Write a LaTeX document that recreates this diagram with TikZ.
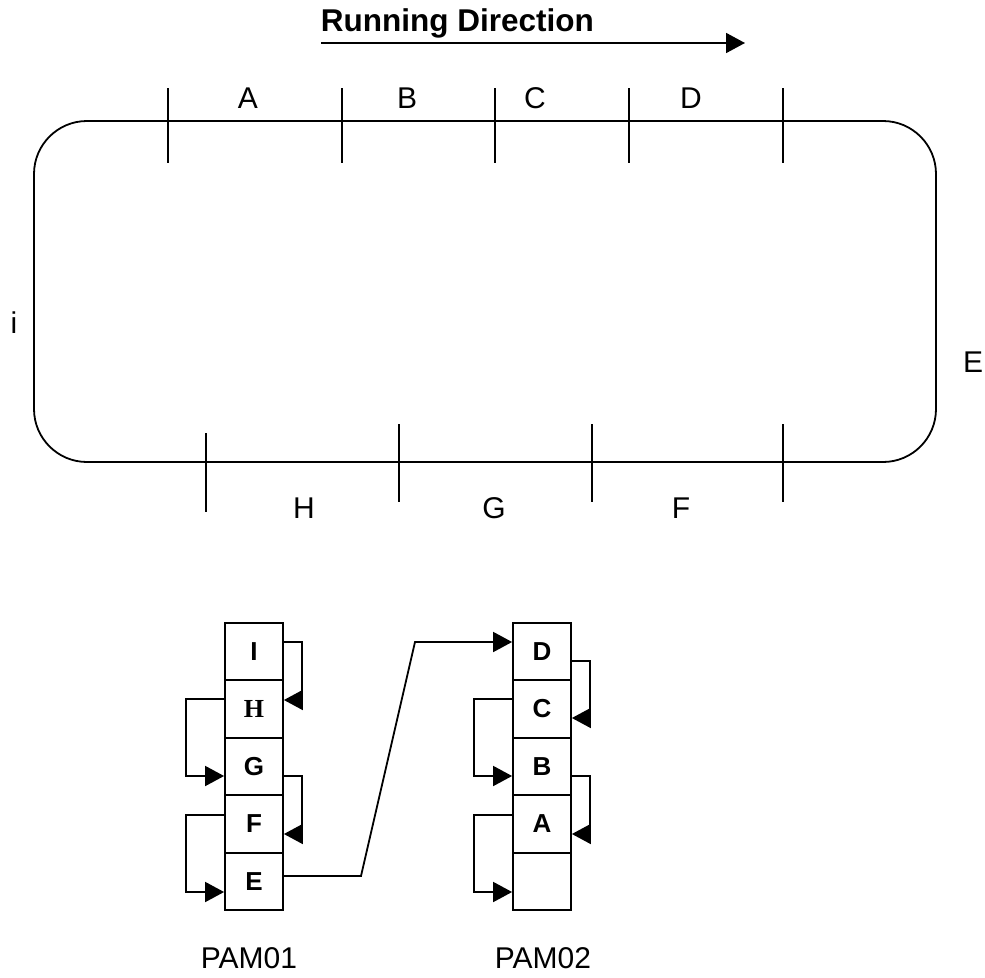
\documentclass[tikz,border=0pt]{standalone}
\usepackage{fontspec}
\setmainfont{Liberation Sans}
\newfontfamily\serifbold{Liberation Serif}
\usetikzlibrary{arrows.meta}
\begin{document}
\begin{tikzpicture}[x=1pt,y=-1pt,line width=1.8pt,
  lbl/.style={anchor=base,font=\fontsize{30}{36}\selectfont,inner sep=0pt},
  cell/.style={draw,line width=1.8pt,minimum width=58pt,minimum height=57.5pt,inner sep=0pt,font=\fontsize{26}{30}\selectfont\bfseries},
  arr/.style={-{Triangle[length=19pt,width=20pt]}},
  tick/.style={line width=1.8pt}]
\useasboundingbox (0,0) rectangle (985,977);
% track
\draw[rounded corners=53pt] (34,121) rectangle (936,462);
% top ticks
\foreach \x in {168,342,495,629,783} \draw[tick] (\x,88) -- (\x,163);
% bottom ticks
\draw[tick] (206,433) -- (206,512);
\foreach \x in {399,592,783} \draw[tick] (\x,424) -- (\x,502);
% labels
\node[lbl] (lA) at (248,108) {A};
\node[lbl] (lB) at (407,108) {B};
\node[lbl] (lC) at (535,108) {C};
\node[lbl] (lD) at (691,108) {D};
\node[lbl] (lH) at (304,518) {H};
\node[lbl] (lG) at (494,518) {G};
\node[lbl] (lF) at (681,518) {F};
\node[lbl] (li) at (14,333) {i};
\node[lbl] (lE) at (973,372) {E};
% running direction
\node[lbl,anchor=base west,font=\fontsize{31.5}{36}\selectfont\bfseries] (rd) at (320,31) {Running Direction};
\coordinate (rs) at (321,43);
\coordinate (re) at (745,43);
\draw[arr] (rs) -- (re);
% PAM01
\node[cell] (I) at (254,651.5) {I};
\node[cell] (H) at (254,709) {\serifbold H};
\node[cell] (G) at (254,766.5) {G};
\node[cell] (F) at (254,824) {F};
\node[cell] (E) at (254,881.5) {E};
% PAM02
\node[cell] (D) at (542,651.5) {D};
\node[cell] (C) at (542,709) {C};
\node[cell] (B) at (542,766.5) {B};
\node[cell] (A) at (542,824) {A};
\node[cell] (Z) at (542,881.5) {};
\node[lbl] (p1) at (249,968) {PAM01};
\node[lbl] (p2) at (543,968) {PAM02};
% PAM01 loops
\draw[arr] (I.east |- 0,642) -- (302,642) -- (302,700) -- (H.east |- 0,700);
\draw[arr] (H.west |- 0,699) -- (186,699) -- (186,776) -- (G.west |- 0,776);
\draw[arr] (G.east |- 0,776) -- (302,776) -- (302,834) -- (F.east |- 0,834);
\draw[arr] (F.west |- 0,815) -- (186,815) -- (186,892) -- (E.west |- 0,892);
% E to D
\draw[arr] (E.east |- 0,876) -- (361,876) -- (415,642) -- (D.west |- 0,642);
% PAM02 loops
\draw[arr] (D.east |- 0,661) -- (590,661) -- (590,718) -- (C.east |- 0,718);
\draw[arr] (C.west |- 0,699) -- (474,699) -- (474,776) -- (B.west |- 0,776);
\draw[arr] (B.east |- 0,776) -- (590,776) -- (590,834) -- (A.east |- 0,834);
\draw[arr] (A.west |- 0,815) -- (474,815) -- (474,892) -- (Z.west |- 0,892);
\end{tikzpicture}
\end{document}
